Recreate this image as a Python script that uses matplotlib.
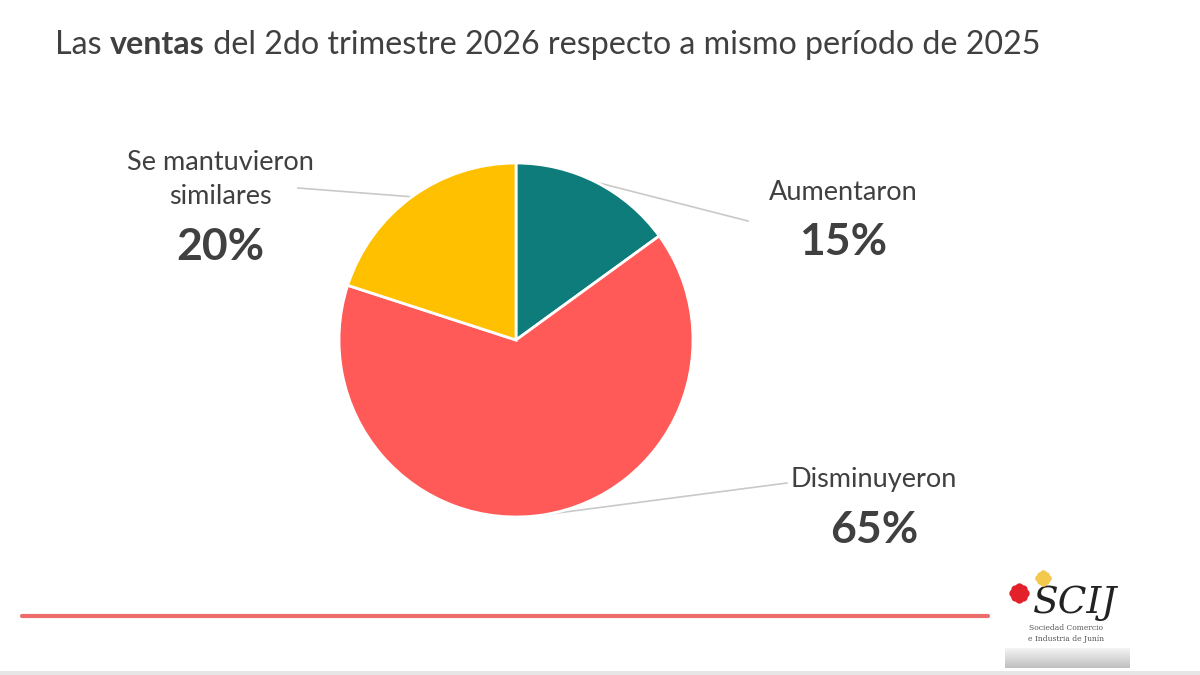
import matplotlib
matplotlib.use("Agg")
import matplotlib.pyplot as plt
import numpy as np
from matplotlib.patches import Rectangle

# ---- data ----
categories = ["Aumentaron", "Disminuyeron", "Se mantuvieron\nsimilares"]
values = [15, 65, 20]
pct_labels = ["15%", "65%", "20%"]
colors = ["#0E7C7B", "#FF5A57", "#FFC000"]
title_parts = [("Las ", "normal"), ("ventas", "bold"),
               (" del 2do trimestre 2026 respecto a mismo período de 2025", "normal")]

W, H = 1200, 675
fig = plt.figure(figsize=(12, 6.75), dpi=100)
fig.patch.set_facecolor("white")
ax = fig.add_axes([0, 0, 1, 1])
ax.set_xlim(0, W)
ax.set_ylim(0, H)
ax.set_aspect("equal")
ax.axis("off")

FONT = ["Lato", "DejaVu Sans"]
TXT = "#404040"

def py(y):  # pixel-from-top to data
    return H - y

# ---- pie ----
cx, cy, R = 516, py(340), 177
wedges, _ = ax.pie(values, colors=colors, startangle=90, counterclock=False,
                   center=(cx, cy), radius=R, frame=True,
                   wedgeprops=dict(edgecolor="white", linewidth=2))
ax.set_xlim(0, W)
ax.set_ylim(0, H)
ax.axis("off")

# label layout (pixel positions)
label_pos = [(843, 192, 242), (874, 480, 530), (220, 162, 247)]
leader_end = [(748, 221), (787, 483), (298, 188)]
name_y_multi = {2: (162, 197)}
NAME_FS, PCT_FS = 19.5, 32

for i, w in enumerate(wedges):
    ang = np.deg2rad((w.theta1 + w.theta2) / 2)
    sx, sy = cx + R * np.cos(ang), cy + R * np.sin(ang)
    ex, ey = leader_end[i]
    ax.plot([sx, ex], [sy, py(ey)], color="#C9C9C9", lw=1.2, zorder=0.5)
    x, ny, vy = label_pos[i]
    if i == 2:
        for line, yy in zip(categories[i].split("\n"), name_y_multi[2]):
            ax.text(x, py(yy), line, ha="center", va="center", fontsize=NAME_FS,
                    color=TXT, family=FONT)
    else:
        ax.text(x, py(ny), categories[i], ha="center", va="center", fontsize=NAME_FS,
                color=TXT, family=FONT)
    ax.text(x, py(vy), pct_labels[i], ha="center", va="center", fontsize=PCT_FS,
            color=TXT, family=FONT, fontweight="bold")

# ---- title with bold word ----
fig.canvas.draw()
renderer = fig.canvas.get_renderer()
x0 = 55
for txt, wt in title_parts:
    t = fig.text(x0 / W, 1 - 45 / H, txt, ha="left", va="center", fontsize=23.2,
                 color=TXT, family=FONT, fontweight=wt)
    bb = t.get_window_extent(renderer=renderer)
    x0 = bb.x1

# ---- bottom red rule ----
ax.plot([22, 988], [py(616), py(616)], color="#EC6B6B", lw=3, solid_capstyle="round")

# bottom gray band
ax.add_patch(Rectangle((0, 0), W, 4, color="#E6E6E6", lw=0))

# ---- logo ----
def flower(x, y, r, col):
    ax.scatter([x], [py(y)], s=(r * 1.6) ** 2, color=col, zorder=5, lw=0)
    for a in np.linspace(0, 2 * np.pi, 8, endpoint=False):
        ax.scatter([x + r * 0.8 * np.cos(a)], [py(y) + r * 0.8 * np.sin(a)],
                   s=(r * 0.8) ** 2, color=col, zorder=5, lw=0)

flower(1043, 578, 6, "#F2C94C")
flower(1019, 593, 7.5, "#E3212B")
ax.text(1075, py(603), "SCIJ", ha="center", va="center", fontsize=27,
        family="DejaVu Serif", style="italic", color="#222222")
ax.text(1066, py(628), "Sociedad Comercio", ha="center", va="center",
        fontsize=5.5, family="DejaVu Serif", color="#555555")
ax.text(1066, py(639), "e Industria de Junín", ha="center", va="center",
        fontsize=5.5, family="DejaVu Serif", color="#555555")
grad = np.linspace(0.95, 0.75, 20).reshape(-1, 1)
ax.imshow(grad, cmap="gray", vmin=0, vmax=1, extent=(1005, 1130, py(668), py(648)),
          aspect="auto", zorder=3)
ax.set_xlim(0, W)
ax.set_ylim(0, H)

fig.savefig("out.png", dpi=100, facecolor="white")
